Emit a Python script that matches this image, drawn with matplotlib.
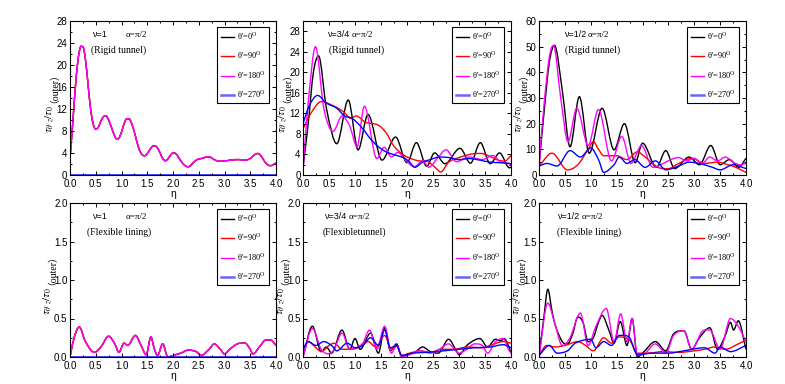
import numpy as np
import matplotlib
matplotlib.use("Agg")
import matplotlib.pyplot as plt
from matplotlib.path import Path
from matplotlib.patches import PathPatch
from matplotlib.lines import Line2D
from matplotlib.ticker import MultipleLocator

plt.rcParams['font.family'] = ['Liberation Sans', 'DejaVu Sans']
plt.rcParams['mathtext.fontset'] = 'stix'

# legend labels / colours
angles = ["0", "90", "180", "270"]
colors = ["#000000", "#ff0000", "#ff00ff", "#0000ff"]

# ---- top row: rigid tunnel ----
# v=1 (all three non-zero curves coincide, 270 deg is zero)
p1_x = [0.00, 0.05, 0.10, 0.15, 0.20, 0.25, 0.30, 0.35, 0.40, 0.45, 0.50, 0.55, 0.60, 0.65, 0.70,
        0.75, 0.80, 0.85, 0.90, 0.95, 1.00, 1.05, 1.10, 1.15, 1.20, 1.25, 1.30, 1.35, 1.40, 1.45,
        1.50, 1.55, 1.60, 1.65, 1.70, 1.75, 1.80, 1.85, 1.90, 1.95, 2.00, 2.05, 2.10, 2.15, 2.20,
        2.25, 2.30, 2.35, 2.40, 2.45, 2.50, 2.55, 2.60, 2.65, 2.70, 2.75, 2.80, 2.85, 2.90, 2.95,
        3.00, 3.05, 3.10, 3.15, 3.20, 3.25, 3.30, 3.35, 3.40, 3.45, 3.50, 3.55, 3.60, 3.65, 3.70,
        3.75, 3.80, 3.85, 3.90, 3.95, 4.00]
p1_y = [3.0, 9.0, 15.5, 20.5, 23.2, 23.3, 21.0, 16.5, 12.0, 9.3, 8.3, 8.7, 9.8, 10.6, 10.7,
        10.0, 8.8, 7.5, 6.6, 6.7, 7.8, 9.3, 10.2, 10.2, 9.3, 7.8, 6.0, 4.5, 3.7, 3.5,
        3.9, 4.6, 5.2, 5.3, 4.9, 4.0, 3.0, 2.6, 2.9, 3.6, 4.0, 3.9, 3.3, 2.6, 2.0,
        1.6, 1.5, 1.8, 2.3, 2.7, 2.9, 3.0, 3.1, 3.3, 3.3, 3.1, 2.8, 2.6, 2.5, 2.5,
        2.6, 2.6, 2.7, 2.7, 2.8, 2.8, 2.8, 2.7, 2.7, 2.8, 3.0, 3.4, 3.8, 3.9, 3.6,
        2.9, 2.2, 1.8, 1.7, 1.9, 2.2]
zero_x = [0.0, 4.0]
zero_y = [0.0, 0.0]

# v=3/4
p2_black_x = [0, 0.1, 0.2, 0.3, 0.45, 0.65, 0.87, 1.06, 1.25, 1.52, 1.78, 2.0, 2.18, 2.38, 2.53,
              2.73, 3.02, 3.22, 3.41, 3.6, 3.78, 3.97, 4.0]
p2_black_y = [1.5, 10, 20, 23.2, 13, 6.1, 14.6, 4.9, 11.8, 2.9, 7.4, 2.4, 6.3, 1.7, 4.3,
              2.2, 5.2, 2.3, 6.3, 2.2, 4.3, 1.4, 1.6]
p2_red_x = [0, 0.15, 0.35, 0.6, 0.78, 0.92, 1.02, 1.2, 1.45, 1.6, 1.75, 1.95, 2.2, 2.4, 2.55,
            2.65, 2.8, 3.0, 3.25, 3.42, 3.6, 3.75, 3.88, 4.0]
p2_red_y = [9, 12, 14.3, 13.4, 12.3, 11, 11.5, 10.3, 9.7, 8.2, 5.6, 3.8, 2.8, 2.6, 1.4,
            0.6, 2.5, 3.4, 4.1, 4.2, 3.6, 2.9, 2.7, 3.8]
p2_mag_x = [0, 0.1, 0.24, 0.4, 0.58, 0.75, 0.9, 1.04, 1.18, 1.42, 1.56, 1.7, 1.82, 2.0, 2.14,
            2.3, 2.42, 2.58, 2.75, 2.95, 3.2, 3.45, 3.65, 3.8, 3.95, 4.0]
p2_mag_y = [1, 14, 25, 13, 8.5, 11.5, 9.5, 5.5, 13.4, 3.2, 5.4, 3.5, 4.4, 2.6, 1.6,
            2.8, 1.5, 3.2, 4.9, 2.6, 3.5, 3.0, 3.8, 2.5, 2.3, 2.0]
p2_blue_x = [0, 0.12, 0.28, 0.45, 0.65, 0.8, 0.95, 1.15, 1.3, 1.45, 1.6, 1.8, 1.95, 2.05, 2.15,
             2.3, 2.45, 2.62, 2.8, 3.0, 3.2, 3.4, 3.6, 3.8, 4.0]
p2_blue_y = [10, 13.5, 15.5, 14, 13, 11.5, 11, 9, 7, 5.5, 4.5, 3.8, 3.3, 2.5, 1.5,
             2.5, 3.0, 3.5, 3.4, 3.0, 3.2, 2.9, 2.5, 2.4, 2.2]

# v=1/2
p3_black_x = [0, 0.1, 0.2, 0.3, 0.45, 0.6, 0.78, 0.97, 1.22, 1.45, 1.65, 1.86, 2.0, 2.27, 2.45,
              2.62, 2.9, 3.1, 3.32, 3.5, 3.68, 3.86, 4.0]
p3_black_y = [3.5, 25, 44, 50.5, 33, 11, 30.5, 8.5, 26, 9.8, 20, 4.8, 12.4, 3, 9.5,
              2.5, 7, 4, 11.5, 4, 6, 3, 6.5]
p3_red_x = [0, 0.25, 0.55, 0.75, 0.95, 1.05, 1.15, 1.25, 1.5, 1.7, 1.9, 2.05, 2.3, 2.5, 2.7,
            2.95, 3.2, 3.45, 3.65, 3.8, 4.0]
p3_red_y = [3.5, 8.5, 2, 4, 10, 13, 10, 7.5, 7.5, 6, 9, 7, 3, 2.5, 4.5,
            6.5, 4.5, 5, 4, 3, 1]
p3_mag_x = [0, 0.1, 0.2, 0.28, 0.42, 0.56, 0.73, 0.95, 1.15, 1.4, 1.6, 1.78, 1.98, 2.2, 2.45,
            2.55, 2.7, 2.85, 3.0, 3.15, 3.3, 3.45, 3.6, 3.75, 3.88, 4.0]
p3_mag_y = [3.5, 28, 46, 50.5, 30, 13, 26, 11.5, 25.5, 5.5, 15, 4.5, 11.5, 3, 5,
            6, 6.8, 5.5, 6.5, 4.5, 7, 5.5, 7, 5, 4, 4.5]
p3_blue_x = [0, 0.15, 0.35, 0.6, 0.8, 1.0, 1.15, 1.25, 1.45, 1.55, 1.7, 1.85, 2.05, 2.25, 2.45,
             2.7, 2.9, 3.1, 3.35, 3.5, 3.75, 4.0]
p3_blue_y = [3.5, 4.5, 3.5, 9.5, 7, 10.5, 6, 1, 4, 7, 4.5, 6, 3, 5.5, 2,
             3.5, 5, 4.5, 3, 2, 4, 2.5]

# ---- bottom row: flexible lining ----
p4_x = [0, 0.08, 0.18, 0.3, 0.47, 0.6, 0.75, 0.87, 0.95, 1.05, 1.12, 1.27, 1.38, 1.48, 1.57,
        1.64, 1.7, 1.8, 1.9, 2.0, 2.15, 2.3, 2.45, 2.55, 2.7, 2.8, 2.92, 3.0, 3.1, 3.25,
        3.4, 3.5, 3.55, 3.7, 3.8, 3.9, 4.0]
p4_y = [0, 0.25, 0.39, 0.2, 0.06, 0.13, 0.27, 0.17, 0.06, 0.18, 0.15, 0.28, 0.15, 0.03, 0.26,
        0.1, 0.02, 0.17, 0.0, 0.02, 0.05, 0.09, 0.07, 0.02, 0.1, 0.17, 0.1, 0.04, 0.1, 0.17,
        0.18, 0.1, 0.04, 0.15, 0.22, 0.22, 0.15]

p5_black_x = [0, 0.18, 0.35, 0.45, 0.55, 0.75, 0.9, 1.0, 1.1, 1.3, 1.45, 1.57, 1.68, 1.8, 1.9,
              2.0, 2.15, 2.3, 2.45, 2.6, 2.8, 2.95, 3.0, 3.15, 3.3, 3.4, 3.55, 3.7, 3.8, 3.87,
              3.95, 4.0]
p5_black_y = [0, 0.4, 0.07, 0.13, 0.05, 0.35, 0.1, 0.24, 0.1, 0.31, 0.05, 0.38, 0.08, 0.17, 0,
              0.03, 0.06, 0.13, 0.07, 0.05, 0.23, 0.08, 0.03, 0.15, 0.22, 0.24, 0.13, 0.23, 0.21, 0.24,
              0.15, 0.05]
p5_red_x = [0, 0.1, 0.25, 0.35, 0.5, 0.6, 0.75, 0.9, 1.05, 1.25, 1.4, 1.57, 1.7, 1.8, 1.9,
            2.05, 2.25, 2.45, 2.65, 2.9, 3.15, 3.45, 3.6, 3.85, 4.0]
p5_red_y = [0.1, 0.2, 0.12, 0.07, 0.15, 0.18, 0.1, 0.1, 0.12, 0.2, 0.13, 0.28, 0.1, 0.14, 0.02,
            0.05, 0.08, 0.06, 0.1, 0.1, 0.13, 0.12, 0.15, 0.2, 0.18]
p5_mag_x = [0, 0.18, 0.35, 0.5, 0.6, 0.75, 0.9, 1.05, 1.15, 1.28, 1.42, 1.57, 1.7, 1.8, 1.9,
            2.05, 2.25, 2.45, 2.6, 2.8, 3.0, 3.15, 3.3, 3.45, 3.55, 3.7, 3.85, 3.95, 4.0]
p5_mag_y = [0, 0.37, 0.1, 0.04, 0.1, 0.31, 0.1, 0.13, 0.18, 0.35, 0.1, 0.4, 0.05, 0.15, 0,
            0.03, 0.08, 0.05, 0.09, 0.17, 0.05, 0.1, 0.17, 0.15, 0.05, 0.2, 0.24, 0.1, 0.05]
p5_blue_x = [0, 0.1, 0.25, 0.4, 0.55, 0.65, 0.85, 1.0, 1.15, 1.3, 1.45, 1.57, 1.68, 1.8, 1.9,
             2.1, 2.4, 2.7, 3.0, 3.3, 3.6, 3.85, 4.0]
p5_blue_y = [0.1, 0.2, 0.15, 0.2, 0.15, 0.08, 0.18, 0.12, 0.15, 0.25, 0.15, 0.35, 0.12, 0.15, 0.02,
             0.05, 0.06, 0.08, 0.1, 0.12, 0.13, 0.16, 0.12]

p6_black_x = [0, 0.1, 0.17, 0.25, 0.32, 0.45, 0.55, 0.65, 0.75, 0.85, 0.95, 1.05, 1.15, 1.22, 1.35,
              1.45, 1.57, 1.7, 1.8, 1.9, 2.0, 2.25, 2.45, 2.6, 2.8, 2.95, 3.1, 3.3, 3.45, 3.6,
              3.7, 3.76, 3.85, 4.0]
p6_black_y = [0, 0.55, 0.88, 0.6, 0.4, 0.2, 0.17, 0.3, 0.52, 0.45, 0.2, 0.25, 0.45, 0.54, 0.35,
              0.18, 0.46, 0.15, 0.5, 0.0, 0.05, 0.2, 0.08, 0.3, 0.34, 0.1, 0.25, 0.38, 0.1, 0.28,
              0.45, 0.35, 0.47, 0.1]
p6_red_x = [0, 0.15, 0.3, 0.5, 0.75, 0.9, 1.05, 1.25, 1.4, 1.55, 1.75, 1.9, 2.1, 2.4, 2.7,
            3.0, 3.2, 3.4, 3.6, 3.85, 4.0]
p6_red_y = [0.02, 0.15, 0.13, 0.15, 0.2, 0.15, 0.08, 0.25, 0.18, 0.26, 0.22, 0.05, 0.05, 0.07, 0.06,
            0.08, 0.1, 0.13, 0.1, 0.17, 0.22]
p6_mag_x = [0, 0.17, 0.3, 0.45, 0.6, 0.8, 0.95, 1.1, 1.3, 1.45, 1.58, 1.7, 1.8, 1.9, 2.05,
            2.25, 2.45, 2.6, 2.8, 2.95, 3.15, 3.3, 3.5, 3.7, 3.85, 4.0]
p6_mag_y = [0, 0.7, 0.45, 0.15, 0.25, 0.57, 0.15, 0.4, 0.63, 0.2, 0.56, 0.2, 0.5, 0.02, 0.05,
            0.17, 0.05, 0.28, 0.34, 0.1, 0.33, 0.35, 0.1, 0.5, 0.4, 0.2]
p6_blue_x = [0, 0.2, 0.35, 0.55, 0.7, 1.0, 1.1, 1.25, 1.4, 1.55, 1.75, 1.9, 2.2, 2.5, 2.8,
             3.2, 3.4, 3.5, 3.7, 4.0]
p6_blue_y = [0.02, 0.15, 0.05, 0.08, 0.18, 0.23, 0.12, 0.2, 0.15, 0.28, 0.25, 0.03, 0.05, 0.05, 0.08,
             0.12, 0.05, 0.13, 0.07, 0.15]

panels = [
    # (series [black, red, magenta, blue], ymax, ymajor, yminor, nu, subtitle)
    ([(p1_x, p1_y), (p1_x, p1_y), (p1_x, p1_y), (zero_x, zero_y)], 28, 4, 2, "1", "(Rigid tunnel)"),
    ([(p2_black_x, p2_black_y), (p2_red_x, p2_red_y), (p2_mag_x, p2_mag_y), (p2_blue_x, p2_blue_y)],
     30, 4, 2, "3/4", "(Rigid tunnel)"),
    ([(p3_black_x, p3_black_y), (p3_red_x, p3_red_y), (p3_mag_x, p3_mag_y), (p3_blue_x, p3_blue_y)],
     60, 10, 5, "1/2", "(Rigid tunnel)"),
    ([(p4_x, p4_y), (p4_x, p4_y), (p4_x, p4_y), (zero_x, zero_y)], 2, 0.5, 0.25, "1", "(Flexible lining)"),
    ([(p5_black_x, p5_black_y), (p5_red_x, p5_red_y), (p5_mag_x, p5_mag_y), (p5_blue_x, p5_blue_y)],
     2, 0.5, 0.25, "3/4", "(Flexibletunnel)"),
    ([(p6_black_x, p6_black_y), (p6_red_x, p6_red_y), (p6_mag_x, p6_mag_y), (p6_blue_x, p6_blue_y)],
     2, 0.5, 0.25, "1/2", "(Flexible lining)"),
]

# axes boxes in pixels of a 785x384 figure
lefts = [70, 303, 539]
rights = [276, 511, 746]
tops = [21, 203]
bottoms = [175, 357]
text_x = [(0.11, 0.27, 0.10), (0.12, 0.235, 0.125), (0.125, 0.237, 0.125),
          (0.11, 0.27, 0.083), (0.106, 0.22, 0.096), (0.092, 0.207, 0.087)]
ylab_base = [-0.087, -0.097]   # baseline of the rotated y label, per row


def smooth_path(x, y):
    # join the read points by cubic segments (like Origin's spline connect)
    x = np.asarray(x, float)
    y = np.asarray(y, float)
    n = len(x)
    m = np.zeros(n)
    for i in range(n):
        if i == 0 or i == n - 1:
            j0, j1 = max(i - 1, 0), min(i + 1, n - 1)
            m[i] = (y[j1] - y[j0]) / (x[j1] - x[j0])
        elif (y[i] - y[i - 1]) * (y[i + 1] - y[i]) <= 0:
            m[i] = 0.0
        else:
            m[i] = (y[i + 1] - y[i - 1]) / (x[i + 1] - x[i - 1])
    verts = [(x[0], y[0])]
    codes = [Path.MOVETO]
    for i in range(n - 1):
        h = x[i + 1] - x[i]
        verts += [(x[i] + h / 3, y[i] + m[i] * h / 3),
                  (x[i + 1] - h / 3, y[i + 1] - m[i + 1] * h / 3),
                  (x[i + 1], y[i + 1])]
        codes += [Path.CURVE4] * 3
    return Path(verts, codes)


fig = plt.figure(figsize=(7.85, 3.84), dpi=100)
W, H = 785.0, 384.0

for k, (series, ymax, ymaj, ymin, nu, sub) in enumerate(panels):
    r, c = divmod(k, 3)
    ax = fig.add_axes([lefts[c] / W, 1 - bottoms[r] / H,
                       (rights[c] - lefts[c]) / W, (bottoms[r] - tops[r]) / H])
    for (sx, sy), col in zip(series, colors):
        ax.add_patch(PathPatch(smooth_path(sx, sy), fill=False, edgecolor=col, lw=1.0))
    ax.set_xlim(0, 4)
    ax.set_ylim(0, ymax)
    ax.xaxis.set_major_locator(MultipleLocator(0.5))
    ax.xaxis.set_minor_locator(MultipleLocator(0.25))
    ax.yaxis.set_minor_locator(MultipleLocator(ymin))
    ax.set_yticks(np.arange(0, ymax + 1e-9, ymaj))
    ax.tick_params(which='both', direction='in', top=True, right=True, labelsize=7, width=0.7)
    ax.tick_params(axis='x', pad=3.2)
    ax.tick_params(axis='y', pad=1.8)
    ax.tick_params(which='major', length=3)
    ax.tick_params(which='minor', length=1.5)
    for s in ax.spines.values():
        s.set_linewidth(0.8)
    ax.set_xlabel("η", fontsize=7.5, labelpad=0)

    # y label: math part below, full-width bracket part above, same baseline
    ax.text(ylab_base[r], 0.455, r"$\tau_{\theta'z}/\tau_0$", transform=ax.transAxes, rotation=90,
            rotation_mode='anchor', ha='right', va='baseline', fontsize=8)
    ax.text(ylab_base[r], 0.465, "（outer）", transform=ax.transAxes, rotation=90,
            rotation_mode='anchor', ha='left', va='baseline', fontsize=7,
            family=['Liberation Serif', 'Noto Sans CJK SC'])

    tx = text_x[k]
    ax.text(tx[0], 0.91, "ν=" + nu, transform=ax.transAxes, fontsize=6.5, va='center')
    ax.text(tx[1], 0.91, "α=π/2", transform=ax.transAxes, fontsize=6.5,
            family='Liberation Serif', va='center')
    ax.text(tx[2], 0.81, sub, transform=ax.transAxes, fontsize=7,
            family='Liberation Serif', va='center')

    handles = [Line2D([], [], color=col, lw=1.0 if i < 3 else 1.8,
                      alpha=1.0 if i < 3 else 0.6) for i, col in enumerate(colors)]
    labels = ["θ'=" + a + r"$^{\mathrm{O}}$" for a in angles]
    leg = ax.legend(handles, labels, loc='upper right', bbox_to_anchor=(0.966, 0.96),
                    borderaxespad=0, fancybox=False, framealpha=1, edgecolor='black',
                    prop={'family': 'Liberation Serif', 'size': 6},
                    handlelength=1.6, handletextpad=0.3, labelspacing=0.95, borderpad=0.4)
    leg.get_frame().set_linewidth(0.8)

fig.savefig("out.png", dpi=100)
